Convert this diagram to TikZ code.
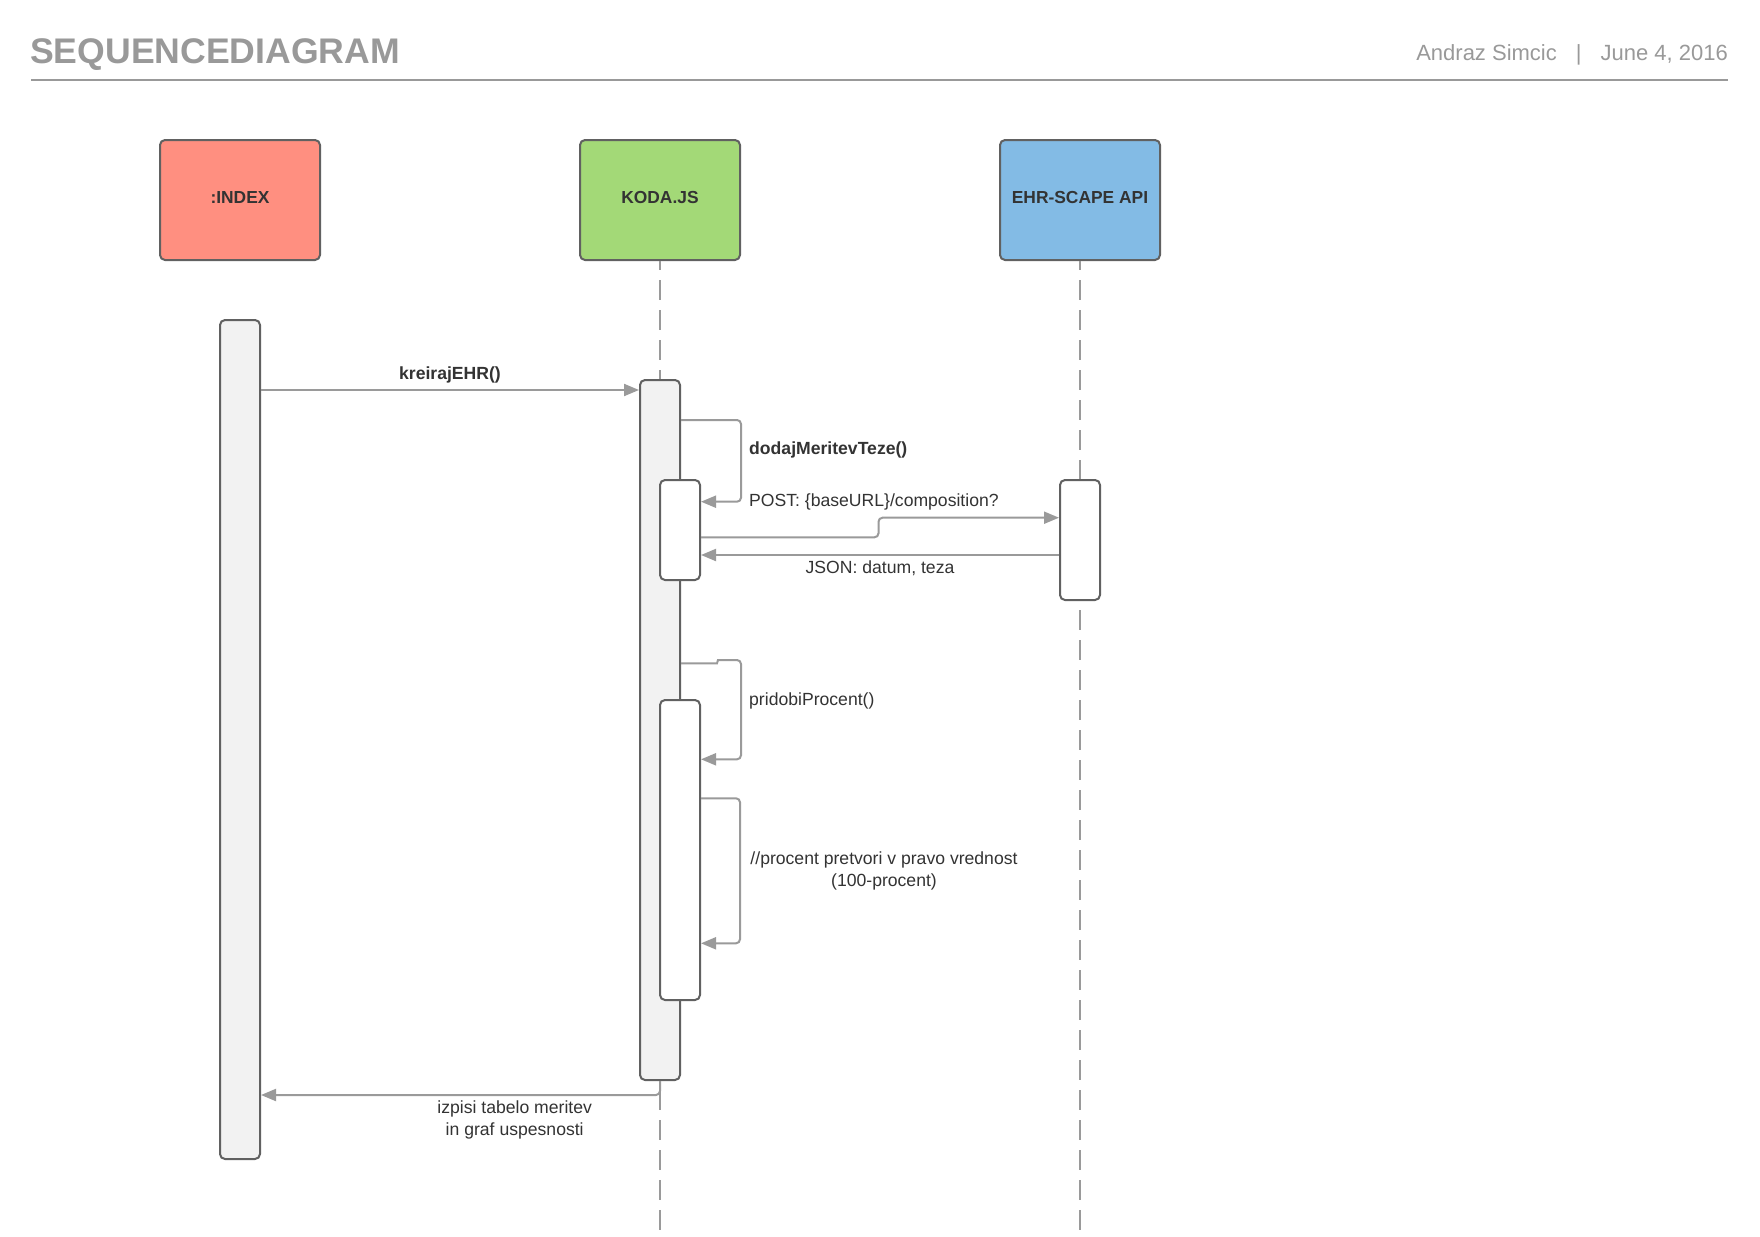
\documentclass[tikz,border=0pt]{standalone}
\usepackage{fontspec}
\setmainfont{Liberation Sans}
\usetikzlibrary{arrows.meta}
\definecolor{titlec}{HTML}{999999}
\definecolor{linec}{HTML}{9A9A9A}
\definecolor{bordc}{HTML}{616161}
\definecolor{txtc}{HTML}{333333}
\definecolor{actc}{HTML}{F2F2F2}
\definecolor{indexc}{HTML}{FF8F80}
\definecolor{kodac}{HTML}{A3D977}
\definecolor{ehrc}{HTML}{83BBE5}
\tikzset{
  head/.style={draw=bordc, line width=2pt, rounded corners=5pt, minimum width=160pt, minimum height=120pt, inner sep=0pt, text depth=5pt, font=\fontsize{17.4}{20}\selectfont\bfseries, text=txtc},
  actbox/.style={draw=bordc, line width=2pt, rounded corners=5pt, minimum width=40pt, inner sep=0pt},
  msg/.style={draw=linec, line width=2pt, -{Triangle[length=15pt,width=12pt]}, rounded corners=4pt},
  lifeline/.style={draw=linec, line width=2pt, dash pattern=on 20pt off 10pt, dash phase=11pt},
  lbl/.style={font=\fontsize{17.6}{22}\selectfont, text=txtc, inner sep=0pt},
  blbl/.style={font=\fontsize{17.6}{22}\selectfont\bfseries, text=txtc, inner sep=0pt},
}
\begin{document}
\begin{tikzpicture}[x=1pt,y=-1pt]
\fill[white] (0,0) rectangle (1760,1236);
\useasboundingbox (0,0) rectangle (1760,1236);

% header
\node[font=\fontsize{35.6}{42}\selectfont\bfseries, text=titlec, anchor=base west, inner sep=0pt] (title) at (30,64) {SEQUENCEDIAGRAM};
\node[font=\fontsize{22}{26}\selectfont, text=titlec, anchor=base east, inner sep=0pt] (author) at (1728,61) {Andraz Simcic\hspace{19pt}|\hspace{19pt}June 4, 2016};
\draw[line width=2pt, draw=titlec] (31,80) -- (1728,80);

% heads
\node[head, fill=indexc] (hI) at (240,200) {:INDEX};
\node[head, fill=kodac] (hK) at (660,200) {KODA.JS};
\node[head, fill=ehrc] (hE) at (1080,200) {EHR-SCAPE API};

% lifelines
\coordinate (endK) at (660,1230);
\coordinate (endE) at (1080,1230);
\draw[lifeline] (hK.south) -- (endK);
\draw[lifeline] (hE.south) -- (endE);

% activations
\node[actbox, fill=actc, minimum height=839pt] (actI) at (240,739.5) {};
\node[actbox, fill=actc, minimum height=700pt] (actK) at (660,730) {};
\node[actbox, fill=white, minimum height=100pt] (actK1) at (680,530) {};
\node[actbox, fill=white, minimum height=120pt] (actE) at (1080,540) {};
\node[actbox, fill=white, minimum height=300pt] (actK2) at (680,850) {};

% messages
\draw[msg] (actI.east |- 0,390) -- (actK.west |- 0,390);
\node[blbl, anchor=base] (lkreiraj) at (450,379) {kreirajEHR()};

\draw[msg] (actK.east |- 0,420) -- (741,420) -- (741,501.7) -- (actK1.east |- 0,501.7);
\node[blbl, anchor=base west] (ldodaj) at (749,454) {dodajMeritevTeze()};

\draw[msg] (actK1.east |- 0,537.3) -- (878.5,537.3) -- (878.5,517.7) -- (actE.west |- 0,517.7);
\node[lbl, anchor=base west] (lpost) at (749,506) {POST: \{baseURL\}/composition?};

\draw[msg] (actE.west |- 0,555) -- (actK1.east |- 0,555);
\node[lbl, anchor=base] (ljson) at (880,573) {JSON: datum, teza};

\draw[msg] (actK.east |- 0,663.3) -- (713,663.3) .. controls (718,663.3) and (717,660) .. (722,660) -- (741,660) -- (741,759.3) -- (actK2.east |- 0,759.3);
\node[lbl, anchor=base west] (lpridobi) at (749,705) {pridobiProcent()};

\draw[msg] (actK2.east |- 0,798.3) -- (740,798.3) -- (740,943.3) -- (actK2.east |- 0,943.3);
\node[lbl, anchor=base, align=center] (lprocent) at (884,886) {//procent pretvori v pravo vrednost\\(100-procent)};

\draw[msg] (actK.south) -- (660,1095) -- (actI.east |- 0,1095);
\node[lbl, anchor=base, align=center] (lizpisi) at (514.7,1135) {izpisi tabelo meritev\\in graf uspesnosti};
\end{tikzpicture}
\end{document}
